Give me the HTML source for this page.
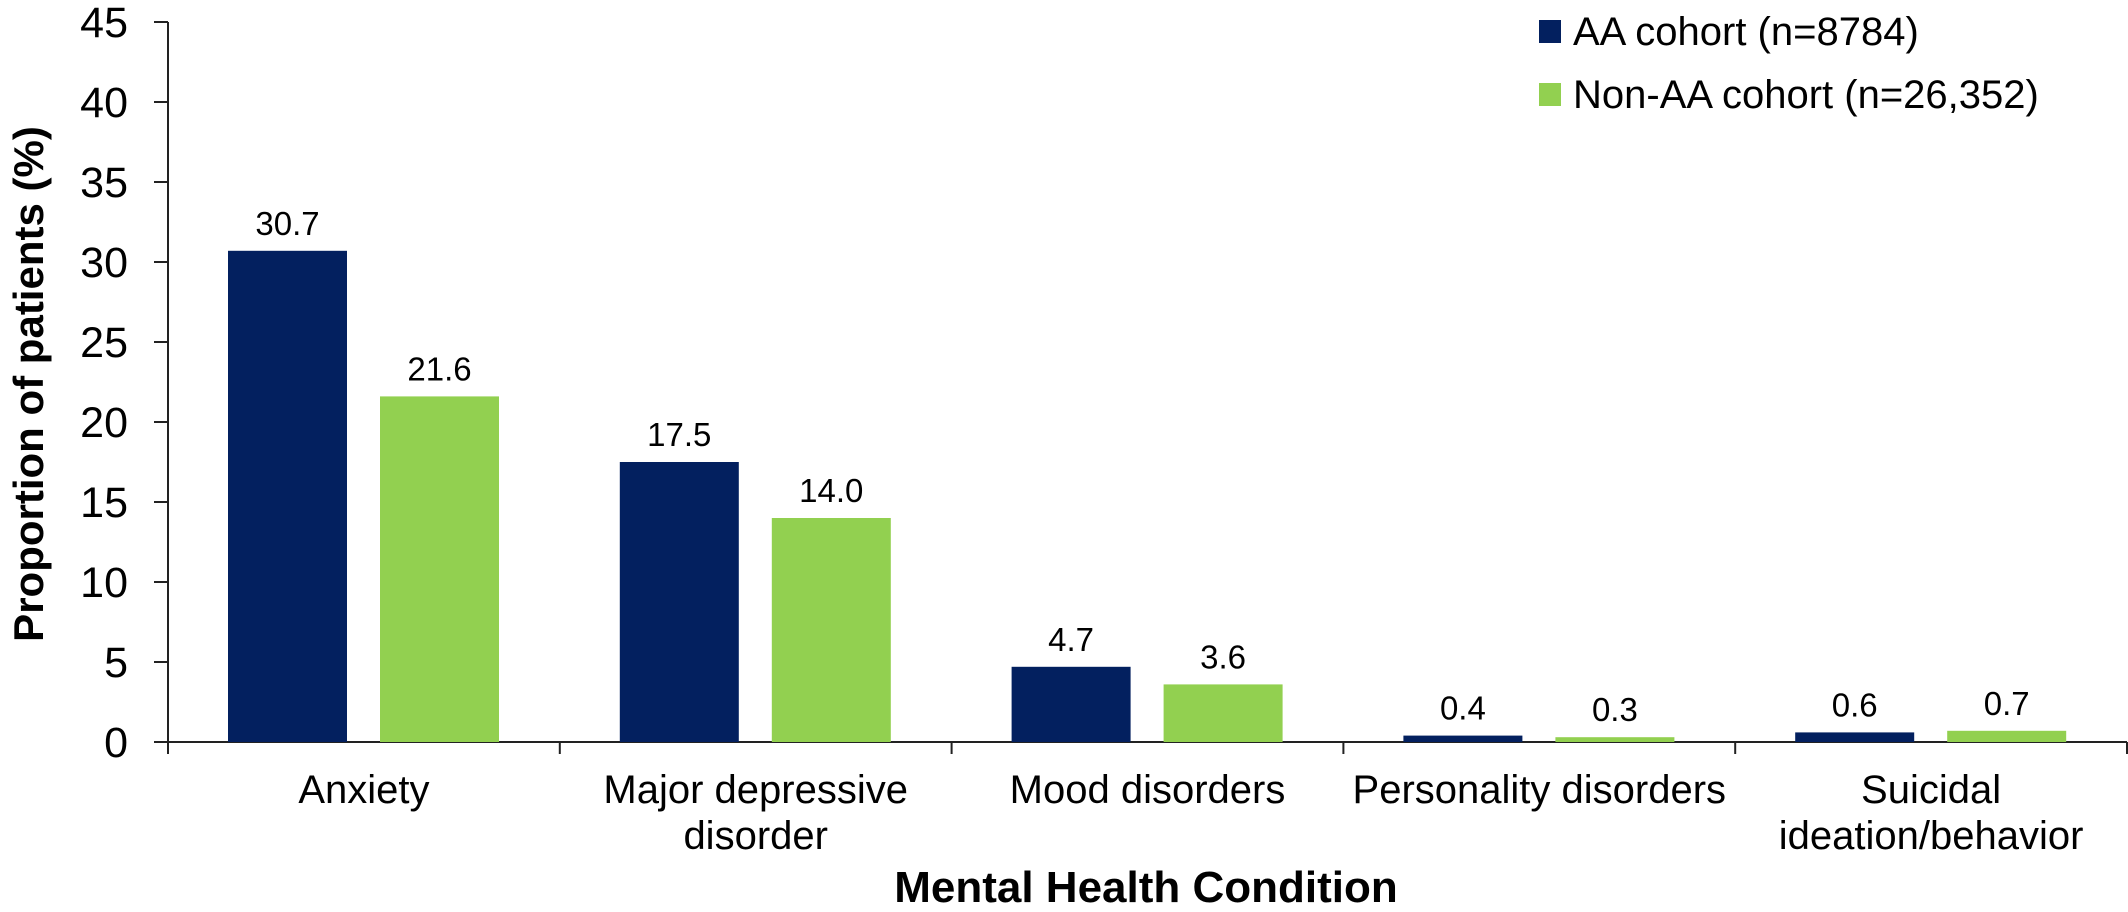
<!DOCTYPE html>
<html><head><meta charset="utf-8"><style>
html,body{margin:0;padding:0;background:#fff;}
svg{display:block;font-family:"Liberation Sans",Arial,sans-serif;}
</style></head><body>
<svg id="chart" width="2128" height="912" viewBox="0 0 2128 912" xmlns="http://www.w3.org/2000/svg">
<g id="plot"></g>
<text transform="translate(43,384) rotate(-90)" text-anchor="middle" font-size="42" font-weight="bold" fill="#000">Proportion of patients (%)</text>
<text x="1146" y="902" text-anchor="middle" font-size="44" font-weight="bold" fill="#000">Mental Health Condition</text>
<g>
<g>
<rect x="1539" y="20" width="22" height="23" fill="#03205f"/>
<text x="1573" y="45" font-size="40" fill="#000">AA cohort (n=8784)</text>
</g>
<g>
<rect x="1539" y="83" width="22" height="23" fill="#92d050"/>
<text x="1573" y="108" font-size="40" fill="#000">Non-AA cohort (n=26,352)</text>
</g>
</g>
</svg>
<script>
const categories = [["Anxiety"],["Major depressive","disorder"],["Mood disorders"],["Personality disorders"],["Suicidal","ideation/behavior"]];
const aaValues = [30.7, 17.5, 4.7, 0.4, 0.6];
const nonAaValues = [21.6, 14.0, 3.6, 0.3, 0.7];
const yTicks = [0,5,10,15,20,25,30,35,40,45];

const NS = "http://www.w3.org/2000/svg";
const plot = document.getElementById("plot");
const X0 = 168, X1 = 2127, Y0 = 742, YTOP = 22, YMAX = 45;
const catW = (X1 - X0) / categories.length;
function y(v){ return Y0 - v * (Y0 - YTOP) / YMAX; }
function mk(tag, attrs){ const e = document.createElementNS(NS, tag); for (const k in attrs) e.setAttribute(k, attrs[k]); plot.appendChild(e); return e; }

// y axis
let ax = mk("line", {x1:X0, y1:YTOP, x2:X0, y2:Y0+12, stroke:"#222", "stroke-width":2});


yTicks.forEach(t => {
  const tk = mk("line", {x1:X0-14, y1:y(t), x2:X0, y2:y(t), stroke:"#222", "stroke-width":2});
  
  
  const tl = mk("text", {x:128, y:y(t)+15, "text-anchor":"end", "font-size":43, fill:"#000"});
  tl.textContent = t;
  
  
});
// x axis
let xa = mk("line", {x1:X0-14, y1:Y0, x2:X1, y2:Y0, stroke:"#222", "stroke-width":2});


for (let i = 0; i <= categories.length; i++) {
  const xt = X0 + i * catW;
  const tk = mk("line", {x1:xt, y1:Y0, x2:xt, y2:Y0+12, stroke:"#222", "stroke-width":2});
  
  
}
const barW = 119;
categories.forEach((c, i) => {
  const start = X0 + i * catW;
  [[aaValues[i], "#03205f", 60, "bar-aa"], [nonAaValues[i], "#92d050", 212, "bar-non-aa"]].forEach(([v, col, off, nm]) => {
    const b = mk("rect", {x:start+off, y:y(v), width:barW, height:Y0-y(v), fill:col});
    
    
    const vl = mk("text", {x:start+off+barW/2, y:y(v)-16, "text-anchor":"middle", "font-size":33, fill:"#000"});
    vl.textContent = v.toFixed(1);
    
    
  });
  const cx = start + catW / 2;
  c.forEach((line, j) => {
    const t = mk("text", {x:cx, y:803 + j*46, "text-anchor":"middle", "font-size":40, fill:"#000"});
    t.textContent = line;
    
    
  });
});
</script>
</body></html>
